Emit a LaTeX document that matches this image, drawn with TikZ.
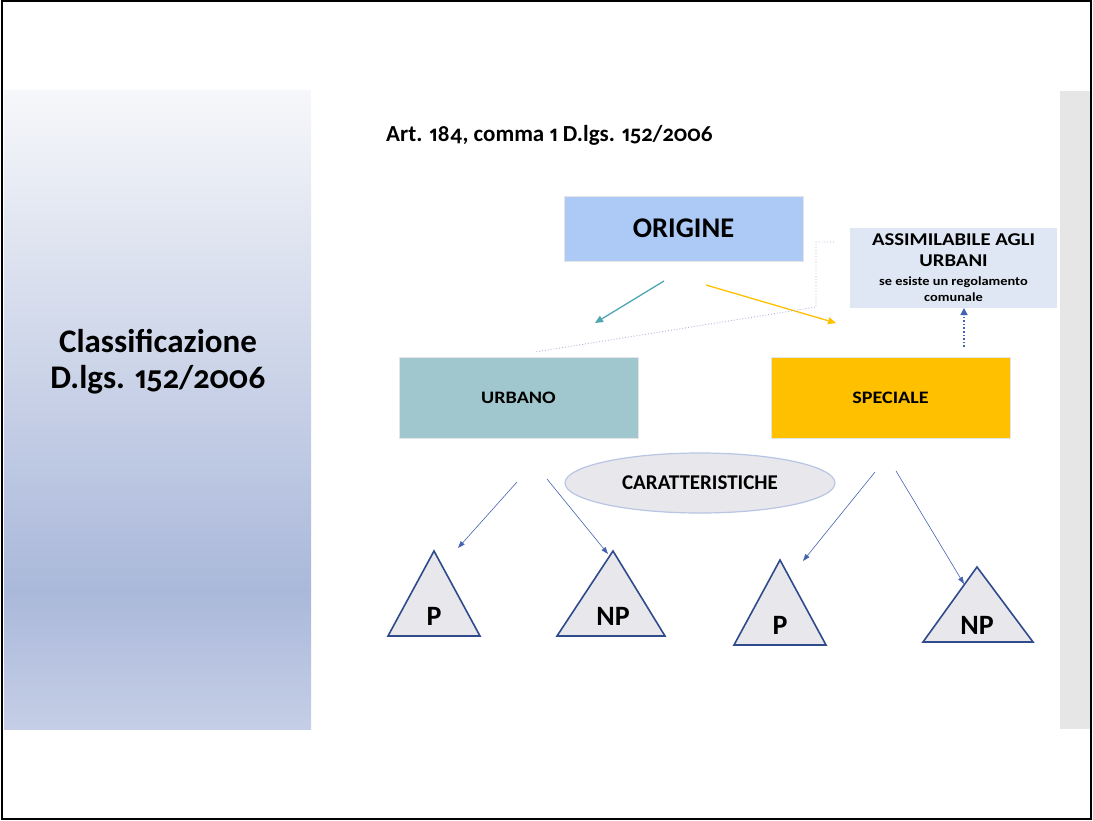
\documentclass[tikz,border=0pt]{standalone}
\usepackage{fontspec}
\setmainfont{Carlito}[Numbers={OldStyle,Proportional}]
\newfontfamily\widefont{Carlito}[FakeStretch=1.15, Numbers={OldStyle,Proportional}]
\usetikzlibrary{arrows.meta,shapes.geometric}

\definecolor{origblue}{HTML}{ADC9F5}
\definecolor{assimbg}{HTML}{DEE7F3}
\definecolor{urbteal}{HTML}{A0C6CE}
\definecolor{specgold}{HTML}{FFC000}
\definecolor{ellgray}{HTML}{E8E7EB}
\definecolor{ellline}{HTML}{B8C5E3}
\definecolor{trifill}{HTML}{E8E7EC}
\definecolor{triline}{HTML}{2F4B8C}
\definecolor{arrblue}{HTML}{4463AE}
\definecolor{tealarr}{HTML}{4FA6B3}
\definecolor{dotgray}{HTML}{AEB4D8}
\definecolor{panellight}{HTML}{F6F7FA}
\definecolor{paneldark}{HTML}{AAB8DA}
\definecolor{panelbottom}{HTML}{C5CEE6}
\definecolor{stripgray}{HTML}{E6E6E6}

\begin{document}
\begin{tikzpicture}[x=1pt,y=-1pt,
  box/.style={minimum width=239pt, minimum height=81pt, inner sep=0pt, draw=black!10, line width=0.8pt, font=\widefont\bfseries\fontsize{17.5}{20}\selectfont},
  tri/.style={draw=triline, fill=trifill, line width=1.6pt, line join=miter},
  trilabel/.style={font=\bfseries\fontsize{28}{32}\selectfont, inner sep=0pt},
  thinarrow/.style={draw=arrblue, line width=0.6pt, -{Triangle[length=7pt,width=5pt]}},
  ]

\useasboundingbox (0,0) rectangle (1093,821);

% side panels
\shade[top color=panellight, bottom color=paneldark] (4,91) rectangle (311,590);
\shade[top color=paneldark, bottom color=panelbottom] (4,589) rectangle (311,729);
\fill[stripgray] (1060,91) rectangle (1091,729);
\draw[line width=1.5pt] (2,1) rectangle (1091,819);

\node[font=\bfseries\fontsize{33}{36}\selectfont, align=center] (classificazione) at (158,362) {Classificazione\\D.lgs. 152/2006};
\node[font=\bfseries\fontsize{23}{26}\selectfont, anchor=west, inner sep=0pt] (articolo) at (386,135) {Art. 184, comma 1 D.lgs. 152/2006};

% boxes
\node[box, fill=origblue, minimum height=65pt, font=\bfseries\fontsize{28.5}{32}\selectfont] (origine) at (683.5,228.5) {ORIGINE};
\node[box, fill=urbteal] (urbano) at (518.5,397.5) {URBANO};
\node[box, fill=specgold] (speciale) at (890.5,397.5) {SPECIALE};
\node[fill=assimbg, minimum width=207pt, minimum height=80pt, inner sep=0pt, align=center, font=\widefont\bfseries\fontsize{18}{21}\selectfont] (assimilabile) at (953.5,268)
  {ASSIMILABILE AGLI\\URBANI\\[-2pt]{\fontsize{12.5}{15}\selectfont se esiste un regolamento}\\[-5pt]{\fontsize{12.5}{15}\selectfont comunale}};
\node[ellipse, draw=ellline, fill=ellgray, line width=1.2pt, minimum width=270pt, minimum height=60pt, font=\bfseries\fontsize{21}{24}\selectfont] (caratteristiche) at (700,483) {CARATTERISTICHE};

% connector ends
\coordinate (urbano-from) at (664,281);
\coordinate (urbano-to) at (595,323);
\coordinate (speciale-from) at (706,285);
\coordinate (speciale-to) at (836,323);
\coordinate (assim-from) at (964,347);
\coordinate (assim-to) at (964,308);
\coordinate (link-start) at (834,242);
\coordinate (link-end) at (535,352);

\draw[tealarr, line width=1.3pt, -{Triangle[length=8pt,width=7pt]}] (urbano-from) -- (urbano-to);
\draw[specgold, line width=1.3pt, -{Triangle[length=8pt,width=7pt]}] (speciale-from) -- (speciale-to);
\draw[arrblue, line width=1.6pt, dotted, -{Triangle[length=7pt,width=7pt]}] (assim-from) -- (assim-to);
\draw[dotgray, line width=0.9pt, dotted] (link-start) -- (816,242) -- (816,307) -- (link-end);

% triangles
\coordinate (urb-p-top) at (434,551);
\coordinate (urb-np-top) at (613,551);
\coordinate (spe-p-top) at (780,560);
\coordinate (spe-np-top) at (977,567);

\draw[tri] (urb-p-top) -- (480,636) -- (388,636) -- cycle;
\draw[tri] (urb-np-top) -- (665,636) -- (557,636) -- cycle;
\draw[tri] (spe-p-top) -- (826,645) -- (734,645) -- cycle;
\draw[tri] (spe-np-top) -- (1033,642) -- (923,642) -- cycle;

\node[trilabel] (urb-p) at (434,616) {P};
\node[trilabel] (urb-np) at (613,616) {NP};
\node[trilabel] (spe-p) at (780,625) {P};
\node[trilabel] (spe-np) at (977,625) {NP};

\draw[thinarrow] (517,482) -- ([xshift=24,yshift=3]urb-p-top);
\draw[thinarrow] (547,479) -- ([xshift=-5,yshift=-3]urb-np-top);
\draw[thinarrow] (875,472) -- ([xshift=23,yshift=-1]spe-p-top);
\draw[thinarrow] (896,471) -- ([xshift=-13,yshift=-17]spe-np-top);

\end{tikzpicture}
\end{document}
